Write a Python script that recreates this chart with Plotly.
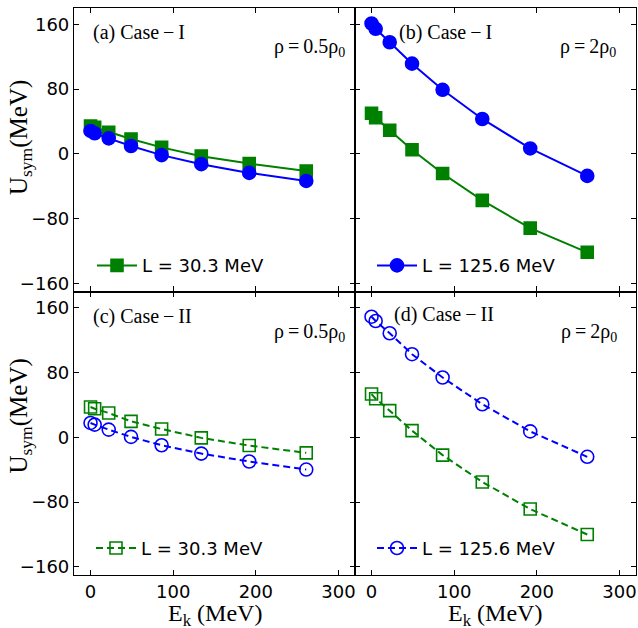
import plotly.graph_objects as go
from plotly.subplots import make_subplots

# Kinetic energy grid (MeV)
ek = [0, 5, 22, 49, 86, 134, 192, 261]

# Symmetry potential U_sym (MeV); "soft" is L = 30.3 MeV, "stiff" is L = 125.6 MeV
case1_low_soft = [34.4, 32.8, 26.6, 18.2, 7.9, -2.9, -12.0, -21.2]
case1_low_stiff = [28.2, 25.3, 19.1, 9.6, -1.6, -12.8, -23.6, -33.5]
case1_high_soft = [50.0, 44.5, 29.0, 5.0, -24.4, -57.5, -91.8, -121.6]
case1_high_stiff = [160.9, 154.3, 137.7, 111.3, 79.0, 43.0, 6.6, -27.3]
case2_low_soft = [37.4, 35.3, 30.0, 19.7, 10.3, -0.7, -10.2, -19.2]
case2_low_stiff = [17.7, 15.6, 9.5, 0.5, -9.8, -20.1, -29.9, -39.8]
case2_high_soft = [53.4, 47.6, 32.9, 8.2, -22.0, -55.1, -88.6, -120.0]
case2_high_stiff = [148.9, 143.6, 128.5, 102.6, 73.8, 40.8, 7.3, -24.1]

label_soft = "L = 30.3 MeV"
label_stiff = "L = 125.6 MeV"
panel_titles = ["(a) Case\u2009\u2212\u2009I", "(b) Case\u2009\u2212\u2009I",
                "(c) Case\u2009\u2212\u2009II", "(d) Case\u2009\u2212\u2009II"]
density_labels = ["\u03c1\u2009=\u20090.5\u03c1<sub>0</sub>", "\u03c1\u2009=\u20092\u03c1<sub>0</sub>",
                  "\u03c1\u2009=\u20090.5\u03c1<sub>0</sub>", "\u03c1\u2009=\u20092\u03c1<sub>0</sub>"]
x_ticks = [0, 100, 200, 300]
y_ticks = [-160, -80, 0, 80, 160]

GREEN = "#008000"
BLUE = "#0000ff"
SERIF = "Liberation Serif, Times New Roman, serif"
SANS = "DejaVu Sans, sans-serif"

fig = make_subplots(rows=2, cols=2, horizontal_spacing=0, vertical_spacing=0)

panels = [
    (1, 1, case1_low_soft, case1_low_stiff, False, "legend", "soft"),
    (1, 2, case1_high_soft, case1_high_stiff, False, "legend2", "stiff"),
    (2, 1, case2_low_soft, case2_low_stiff, True, "legend3", "soft"),
    (2, 2, case2_high_soft, case2_high_stiff, True, "legend4", "stiff"),
]

for row, col, soft, stiff, hollow, leg, shown in panels:
    dash = "7px,4px" if hollow else "solid"
    fig.add_trace(go.Scatter(
        x=ek, y=soft, mode="lines+markers", name=label_soft,
        line=dict(color=GREEN, width=2, dash=dash),
        marker=dict(symbol="square-open" if hollow else "square", size=12,
                    color=GREEN, line=dict(color=GREEN, width=1.6)),
        showlegend=(shown == "soft"), legend=leg,
    ), row=row, col=col)
    fig.add_trace(go.Scatter(
        x=ek, y=stiff, mode="lines+markers", name=label_stiff,
        line=dict(color=BLUE, width=2, dash=dash),
        marker=dict(symbol="circle-open" if hollow else "circle", size=13,
                    color=BLUE, line=dict(color=BLUE, width=1.6)),
        showlegend=(shown == "stiff"), legend=leg,
    ), row=row, col=col)

axis_common = dict(
    showline=True, mirror="ticks", linecolor="black", linewidth=1.2,
    ticks="inside", ticklen=5, tickwidth=1.2, tickcolor="black",
    showgrid=False, zeroline=False,
    tickfont=dict(family=SANS, size=18, color="black"),
)
for r in (1, 2):
    for c in (1, 2):
        fig.update_xaxes(axis_common, range=[-20, 320], tickvals=x_ticks,
                         showticklabels=(r == 2), row=r, col=c)
        fig.update_yaxes(axis_common, range=[-170, 180], tickvals=y_ticks,
                         showticklabels=(c == 1), row=r, col=c)

L, R, T, B = 74, 2, 8, 53
W, H = 638, 628
PW, PH = W - L - R, H - T - B


def px(xp):
    return (xp - L) / PW


def py(yp):
    return (H - B - yp) / PH


annotations = []
# panel labels
title_pos = [(90.7, 32), (396.7, 32), (90.7, 316), (392.3, 314)]
dens_pos = [(347, 47), (618, 47), (347, 332), (619, 332)]
for text, (xp, yp) in zip(panel_titles, title_pos):
    annotations.append(dict(text=text, x=px(xp), y=py(yp), xref="paper", yref="paper",
                            xanchor="left", yanchor="middle", showarrow=False,
                            font=dict(family=SERIF, size=20, color="black")))
for text, (xp, yp) in zip(density_labels, dens_pos):
    annotations.append(dict(text=text, x=px(xp), y=py(yp), xref="paper", yref="paper",
                            xanchor="right", yanchor="middle", showarrow=False,
                            font=dict(family=SERIF, size=20, color="black")))
# axis titles
for yp in (138, 416.5):
    annotations.append(dict(text="U<sub>sym</sub>(MeV)", x=px(20), y=py(yp),
                            xref="paper", yref="paper", xanchor="center", yanchor="middle",
                            textangle=-90, showarrow=False,
                            font=dict(family=SERIF, size=25, color="black")))
for xp in (214.7, 495):
    annotations.append(dict(text="E<sub>k</sub> (MeV)", x=px(xp), y=py(615),
                            xref="paper", yref="paper", xanchor="center", yanchor="middle",
                            showarrow=False,
                            font=dict(family=SERIF, size=24, color="black")))

legend_common = dict(bgcolor="rgba(0,0,0,0)", borderwidth=0, itemwidth=40,
                     xanchor="left", yanchor="middle",
                     font=dict(family=SANS, size=18, color="black"))

fig.update_layout(
    width=W, height=H,
    margin=dict(l=L, r=R, t=T, b=B),
    paper_bgcolor="white", plot_bgcolor="white",
    annotations=annotations,
    legend=dict(legend_common, x=px(92), y=py(265.7)),
    legend2=dict(legend_common, x=px(372), y=py(265.7)),
    legend3=dict(legend_common, x=px(91), y=py(548.3)),
    legend4=dict(legend_common, x=px(372), y=py(548.3)),
)

fig.write_html("out.html")
